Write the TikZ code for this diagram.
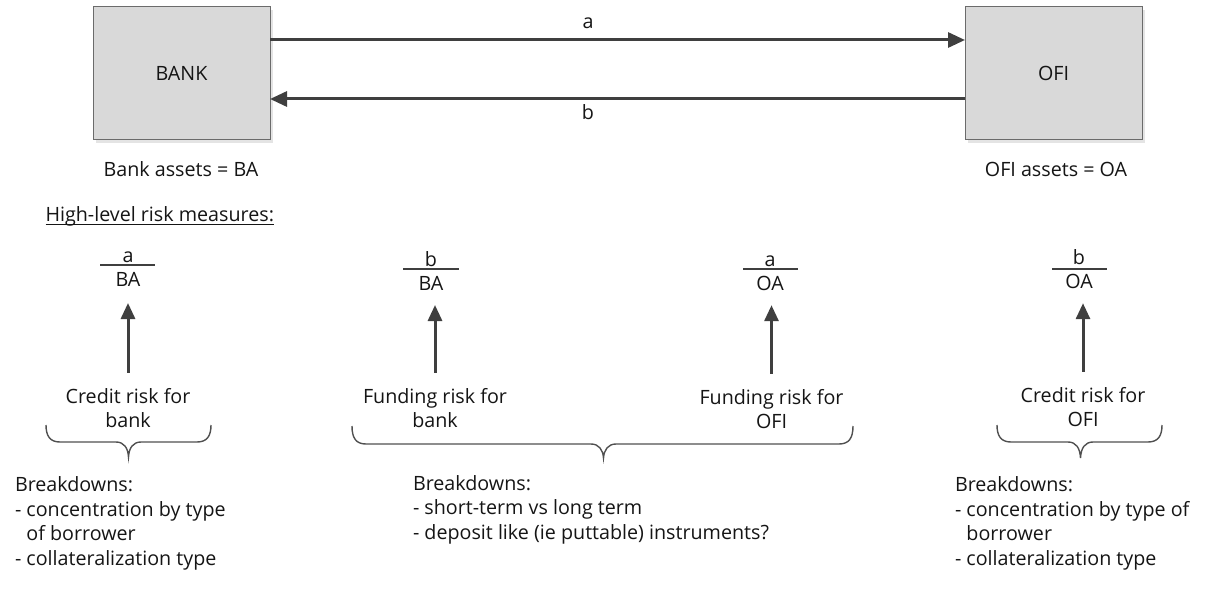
\documentclass[tikz,border=0pt]{standalone}
\usepackage{fontspec}
\setmainfont{Open Sans}
\usetikzlibrary{arrows.meta,shadows}
\definecolor{boxfill}{HTML}{D9D9D9}
\definecolor{boxline}{HTML}{6B6B6B}
\definecolor{arrowcol}{HTML}{3F3F3F}
\definecolor{bracecol}{HTML}{505050}
\definecolor{txt}{HTML}{151515}
\definecolor{shadowcol}{HTML}{E4E4E4}
\begin{document}
\begin{tikzpicture}[x=1pt,y=1pt,
  every node/.style={inner sep=0pt, outer sep=0pt, text=txt, font=\fontsize{19.7}{24.5}\selectfont},
  entity/.style={draw=boxline, line width=1pt, fill=boxfill, minimum width=177pt, minimum height=133pt,
    drop shadow={shadow xshift=3pt, shadow yshift=-3pt, fill=shadowcol, opacity=1}},
  flow/.style={draw=arrowcol, line width=3pt, -{Triangle[length=17pt,width=15pt]}},
  riskarrow/.style={draw=arrowcol, line width=3pt, -{Triangle[length=16pt,width=14pt]}},
  fracbar/.style={draw=arrowcol, line width=1.5pt},
  bracestyle/.style={draw=bracecol, line width=1.4pt},
  caption/.style={align=center, anchor=base},
  listtext/.style={align=left, anchor=base west},
]
\useasboundingbox (0,0) rectangle (1221,-596);

% entities
\node[entity] (bank) at (181.5,-73.5) {BANK};
\node[entity] (ofi) at (1053.5,-73.5) {OFI};
\draw[flow] ([yshift=33.5pt]bank.east) -- ([yshift=33.5pt]ofi.west);
\draw[flow] ([yshift=-25.5pt]ofi.west) -- ([yshift=-25.5pt]bank.east);
\node[anchor=base] (lbla) at (588,-29) {a};
\node[anchor=base] (lblb) at (588,-119.3) {b};
\node[anchor=base] (bankassets) at (181,-176.7) {Bank assets = BA};
\node[anchor=base] (ofiassets) at (1056,-176.7) {OFI assets = OA};

% heading
\node[anchor=base east] (heading) at (274,-222) {High-level risk measures:};
\draw[draw=txt, line width=1.3pt] ([yshift=-2.2pt]heading.base west) -- ([yshift=-2.2pt]heading.base east);

% fractions
\node[anchor=base] (num1) at (128,-262) {a};
\node[anchor=base] (den1) at (128,-287) {BA};
\draw[fracbar] (100,-265) -- (155,-265);
\node[anchor=base] (num2) at (431,-266) {b};
\node[anchor=base] (den2) at (431,-290) {BA};
\draw[fracbar] (403,-269) -- (459,-269);
\node[anchor=base] (num3) at (770,-266) {a};
\node[anchor=base] (den3) at (770,-290) {OA};
\draw[fracbar] (743,-269) -- (798,-269);
\node[anchor=base] (num4) at (1079,-265) {b};
\node[anchor=base] (den4) at (1079,-288) {OA};
\draw[fracbar] (1052,-269) -- (1107,-269);

% risk labels (base = last line)
\node[caption] (risk1) at (128,-427.5) {Credit risk for\\bank};
\node[caption] (risk2) at (435,-427.5) {Funding risk for\\bank};
\node[caption] (risk3) at (771.5,-428.5) {Funding risk for\\OFI};
\node[caption] (risk4) at (1083,-426.5) {Credit risk for\\OFI};

\draw[riskarrow, shorten <=15pt, shorten >=16pt] (risk1.north) -- (risk1.north |- den1.south);
\draw[riskarrow, shorten <=15pt, shorten >=15pt] (risk2.north) -- (risk2.north |- den2.south);
\draw[riskarrow, shorten <=15pt, shorten >=15pt] (risk3.north) -- (risk3.north |- den3.south);
\draw[riskarrow, shorten <=15pt, shorten >=15pt] (risk4.north) -- (risk4.north |- den4.south);

% braces
\draw[bracestyle] (46,-425) .. controls (46,-436) and (50,-442) .. (60,-442) -- (116,-442)
  .. controls (124,-442) and (128,-448) .. (128.5,-457) .. controls (129,-448) and (133,-442) .. (141,-442)
  -- (197,-442) .. controls (207,-442) and (211,-436) .. (211,-425);
\draw[bracestyle] (352,-426) .. controls (352,-438) and (356,-444) .. (366,-444) -- (591,-444)
  .. controls (599,-444) and (603,-450) .. (603.5,-458) .. controls (604,-450) and (608,-444) .. (616,-444)
  -- (839,-444) .. controls (849,-444) and (853,-438) .. (853,-426);
\draw[bracestyle] (997,-425) .. controls (997,-436) and (1001,-442) .. (1011,-442) -- (1068,-442)
  .. controls (1076,-442) and (1080,-448) .. (1080.5,-458) .. controls (1081,-448) and (1085,-442) .. (1093,-442)
  -- (1148,-442) .. controls (1158,-442) and (1162,-436) .. (1162,-425);

% breakdowns (base = last line)
\node[listtext] (bd1) at (15,-565.2) {Breakdowns:\\- concentration by type\\\phantom{- }of borrower\\- collateralization type};
\node[listtext] (bd2) at (413,-539) {Breakdowns:\\- short-term vs long term\\- deposit like (ie puttable) instruments?};
\node[listtext] (bd3) at (955,-565.2) {Breakdowns:\\- concentration by type of\\\phantom{- }borrower\\- collateralization type};
\end{tikzpicture}
\end{document}
